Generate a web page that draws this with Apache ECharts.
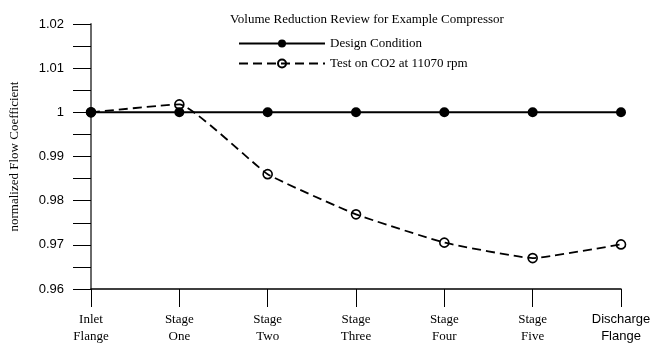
<!DOCTYPE html>
<html>
<head>
<meta charset="utf-8">
<script src="https://cdn.jsdelivr.net/npm/echarts@6/dist/echarts.min.js"></script>
<style>html,body{margin:0;padding:0;background:#fff}#c{width:655px;height:346px}</style>
</head>
<body>
<div id="c"></div>
<script>
var categories = ['Inlet\nFlange', 'Stage\nOne', 'Stage\nTwo', 'Stage\nThree', 'Stage\nFour', 'Stage\nFive', 'Discharge\nFlange'];
var designValues = [1, 1, 1, 1, 1, 1, 1];
var testValues = [1, 1.0018, 0.986, 0.9769, 0.9705, 0.967, 0.9701];
var titleText = 'Volume Reduction Review for Example Compressor';
var seriesNames = ['Design Condition', 'Test on CO2 at 11070 rpm'];
var yAxisName = 'normalized Flow Coefficient';

var serif = '"Liberation Serif", "Times New Roman", serif';
var sans = '"Liberation Sans", Arial, sans-serif';

var chart = echarts.init(document.getElementById('c'));
chart.setOption({
  animation: false,
  backgroundColor: '#fff',
  title: {
    text: titleText,
    left: 362, textAlign: 'center', top: 8,
    textStyle: { fontFamily: serif, fontSize: 13, fontWeight: 'normal', color: '#000' }
  },
  legend: {
    orient: 'vertical',
    left: 233, top: 32,
    itemWidth: 86, itemHeight: 10, itemGap: 7,
    textStyle: { fontFamily: serif, fontSize: 13, color: '#000' },
    data: seriesNames
  },
  grid: { left: 87, right: 34, top: 24, bottom: 57, containLabel: false },
  xAxis: {
    type: 'category',
    data: categories,
    boundaryGap: false,
    axisLine: { lineStyle: { color: '#000', width: 1.5 } },
    axisTick: { show: true, length: 18, lineStyle: { color: '#000', width: 1 } },
    axisLabel: {
      margin: 22, interval: 0, lineHeight: 17,
      fontFamily: serif, fontSize: 13, color: '#000',
      formatter: function (v) {
        if (v.indexOf('Discharge') === 0) {
          return v.split('\n').map(function (s) { return '{s|' + s + '}'; }).join('\n');
        }
        return v;
      },
      rich: { s: { fontFamily: sans, fontSize: 13, color: '#000', lineHeight: 17 } }
    },
    splitLine: { show: false }
  },
  yAxis: {
    type: 'value',
    min: 0.96, max: 1.02, interval: 0.01,
    name: yAxisName,
    nameLocation: 'middle',
    nameGap: 70,
    nameTextStyle: { fontFamily: serif, fontSize: 13, color: '#000' },
    axisLine: { show: true, lineStyle: { color: '#6a6a6a', width: 2 } },
    axisTick: { show: true, length: 18, lineStyle: { color: '#000', width: 1 } },
    minorTick: { show: true, splitNumber: 2, length: 18, lineStyle: { color: '#000', width: 1 } },
    axisLabel: {
      margin: 27, fontFamily: sans, fontSize: 13, color: '#000',
      formatter: function (v) { return String(+v.toFixed(2)); }
    },
    splitLine: { show: false }
  },
  series: [
    {
      name: seriesNames[0],
      type: 'line',
      data: designValues,
      symbol: 'circle', symbolSize: 10,
      lineStyle: { color: '#000', width: 2 },
      itemStyle: { color: '#000' },
      z: 2
    },
    {
      name: seriesNames[1],
      type: 'line',
      data: testValues,
      smooth: 0.12,
      symbol: 'circle', symbolSize: 9,
      lineStyle: { color: '#000', width: 1.8, type: [9, 5] },
      itemStyle: { color: 'rgba(0,0,0,0)', borderColor: '#000', borderWidth: 1.6 },
      z: 3
    }
  ]
});
</script>
</body>
</html>
